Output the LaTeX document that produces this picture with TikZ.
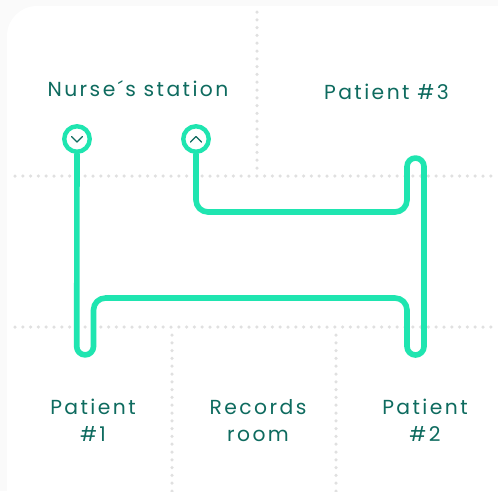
\documentclass[tikz,border=0pt]{standalone}
\usepackage{fontspec}
\setmainfont[LetterSpace=12]{Poppins}
\definecolor{teal1}{HTML}{1FE5B0}
\definecolor{txt}{HTML}{0E6B5F}
\definecolor{dotc}{HTML}{E0E0E0}
\definecolor{bg}{HTML}{FAFAFA}
\tikzset{
  label text/.style={text=txt,font=\fontsize{20.3}{27}\selectfont,align=center,inner sep=0pt},
  dotline/.style={dotc,line width=3.5pt,line cap=round,dash pattern=on 0pt off 7.8pt},
  route/.style={teal1,line width=5.6pt,line cap=round,line join=round},
  port/.style={circle,draw=teal1,line width=4.4pt,fill=white,minimum size=25.5pt,inner sep=0pt},
  chev/.style={txt,line width=1.4pt,line cap=round,line join=round}
}
\begin{document}
\begin{tikzpicture}[x=1pt,y=-1pt]
\useasboundingbox (0,0) rectangle (498,491);
\fill[bg] (0,0) rectangle (498,491);
\fill[white,rounded corners=30pt] (7,6) rectangle (530,520);
\draw[dotline] (15,176) -- (498,176);
\draw[dotline] (15,327) -- (498,327);
\draw[dotline] (257,12) -- (257,170);
\draw[dotline] (172,335) -- (172,491);
\draw[dotline] (336,335) -- (336,491);
\node[port] (a) at (77,139) {};
\node[port] (b) at (196,139) {};
\draw[route] (b.south) -- (196,200)
  arc[start angle=180,end angle=270,radius=12pt] -- (395,212)
  arc[start angle=270,end angle=360,radius=12pt] -- (407,166.5)
  arc[start angle=180,end angle=0,radius=8.5pt] -- (424,346.5)
  arc[start angle=360,end angle=180,radius=8.5pt] -- (407,310)
  arc[start angle=0,end angle=90,radius=12pt] -- (105.5,298)
  arc[start angle=90,end angle=180,radius=12pt] -- (93.5,346.5)
  arc[start angle=360,end angle=180,radius=8.4pt] -- (a.south);
\draw[chev] (71.5,136.5) -- (77,142) -- (82.5,136.5);
\draw[chev] (190.5,142) -- (196,136.5) -- (201.5,142);
\node[label text] (n) at (138,88.5) {Nurse´s station};
\node[label text] (p3) at (386.5,91.5) {Patient \#3};
\node[label text] (p1) at (93,420.5) {Patient\\\#1};
\node[label text] (r) at (258,420.5) {Records\\room};
\node[label text] (p2) at (425,420.5) {Patient\\\#2};
\end{tikzpicture}
\end{document}
